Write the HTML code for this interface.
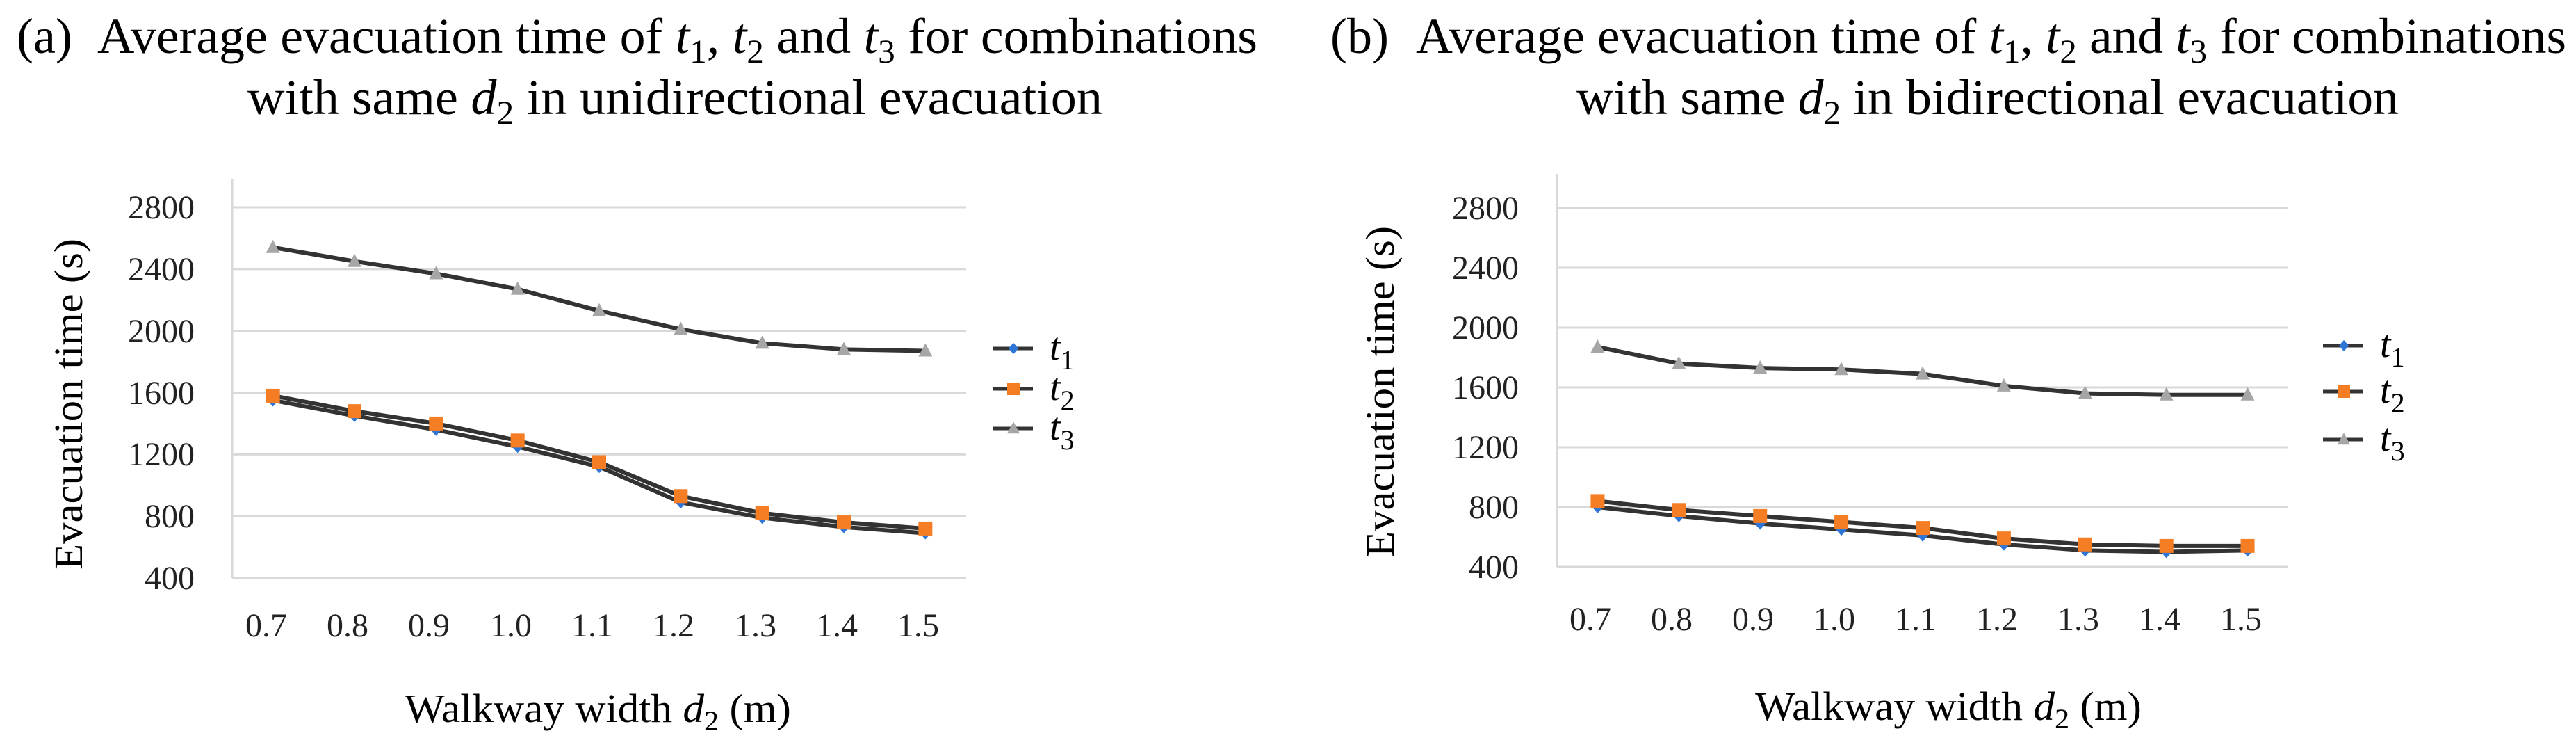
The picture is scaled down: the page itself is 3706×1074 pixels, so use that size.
<!DOCTYPE html>
<html><head><meta charset="utf-8"><style>
html,body{margin:0;padding:0;background:#fff;}
svg, svg text, svg tspan{font-family:"Liberation Serif","DejaVu Serif",serif;}
.yl{font-size:48px;text-anchor:end;fill:#222;}
.xl{font-size:48px;text-anchor:middle;fill:#222;}
</style></head><body>
<svg id="fig" width="3706" height="1069" viewBox="0 0 3706 1069" font-family="Liberation Serif, serif">
  <text x="24" y="76" font-size="72">(a)</text>
  <text x="140" y="76" font-size="72" textLength="1669" lengthAdjust="spacingAndGlyphs">Average evacuation time of <tspan font-style="italic">t</tspan><tspan font-size="48" dy="14">1</tspan><tspan dy="-14">, </tspan><tspan font-style="italic">t</tspan><tspan font-size="48" dy="14">2</tspan><tspan dy="-14"> and </tspan><tspan font-style="italic">t</tspan><tspan font-size="48" dy="14">3</tspan><tspan dy="-14"> for combinations</tspan></text>
  <text x="356" y="164" font-size="72" textLength="1230" lengthAdjust="spacingAndGlyphs">with same <tspan font-style="italic">d</tspan><tspan font-size="48" dy="14">2</tspan><tspan dy="-14"> in unidirectional evacuation</tspan></text>
  <text x="1914" y="76" font-size="72">(b)</text>
  <text x="2037" y="76" font-size="72" textLength="1655" lengthAdjust="spacingAndGlyphs">Average evacuation time of <tspan font-style="italic">t</tspan><tspan font-size="48" dy="14">1</tspan><tspan dy="-14">, </tspan><tspan font-style="italic">t</tspan><tspan font-size="48" dy="14">2</tspan><tspan dy="-14"> and </tspan><tspan font-style="italic">t</tspan><tspan font-size="48" dy="14">3</tspan><tspan dy="-14"> for combinations</tspan></text>
  <text x="2268" y="164" font-size="72" textLength="1183" lengthAdjust="spacingAndGlyphs">with same <tspan font-style="italic">d</tspan><tspan font-size="48" dy="14">2</tspan><tspan dy="-14"> in bidirectional evacuation</tspan></text>

  <g id="chartA"></g>
  <g id="chartB"></g>

  <g>
    <text class="yl" x="280" y="847">400</text>
    <text class="yl" x="280" y="758">800</text>
    <text class="yl" x="280" y="669">1200</text>
    <text class="yl" x="280" y="581">1600</text>
    <text class="yl" x="280" y="492">2000</text>
    <text class="yl" x="280" y="403">2400</text>
    <text class="yl" x="280" y="314">2800</text>
  </g>
  <g>
    <text class="xl" x="383" y="915">0.7</text>
    <text class="xl" x="500" y="915">0.8</text>
    <text class="xl" x="617" y="915">0.9</text>
    <text class="xl" x="735" y="915">1.0</text>
    <text class="xl" x="852" y="915">1.1</text>
    <text class="xl" x="969" y="915">1.2</text>
    <text class="xl" x="1087" y="915">1.3</text>
    <text class="xl" x="1204" y="915">1.4</text>
    <text class="xl" x="1321" y="915">1.5</text>
  </g>
  <text x="0" y="0" font-size="58" text-anchor="middle" transform="translate(118,581) rotate(-90)" textLength="476" lengthAdjust="spacingAndGlyphs">Evacuation time (s)</text>
  <text x="860" y="1038" font-size="58" text-anchor="middle" textLength="556" lengthAdjust="spacingAndGlyphs">Walkway width <tspan font-style="italic">d</tspan><tspan font-size="40" dy="12">2</tspan><tspan dy="-12"> (m)</tspan></text>
  <text x="1510" y="517" font-size="56"><tspan font-style="italic">t</tspan><tspan font-size="40" dy="14">1</tspan></text>
  <text x="1510" y="575" font-size="56"><tspan font-style="italic">t</tspan><tspan font-size="40" dy="14">2</tspan></text>
  <text x="1510" y="632" font-size="56"><tspan font-style="italic">t</tspan><tspan font-size="40" dy="14">3</tspan></text>

  <g>
    <text class="yl" x="2185" y="831">400</text>
    <text class="yl" x="2185" y="745">800</text>
    <text class="yl" x="2185" y="659">1200</text>
    <text class="yl" x="2185" y="573">1600</text>
    <text class="yl" x="2185" y="487">2000</text>
    <text class="yl" x="2185" y="401">2400</text>
    <text class="yl" x="2185" y="315">2800</text>
  </g>
  <g>
    <text class="xl" x="2288" y="906">0.7</text>
    <text class="xl" x="2405" y="906">0.8</text>
    <text class="xl" x="2522" y="906">0.9</text>
    <text class="xl" x="2639" y="906">1.0</text>
    <text class="xl" x="2756" y="906">1.1</text>
    <text class="xl" x="2873" y="906">1.2</text>
    <text class="xl" x="2990" y="906">1.3</text>
    <text class="xl" x="3107" y="906">1.4</text>
    <text class="xl" x="3224" y="906">1.5</text>
  </g>
  <text x="0" y="0" font-size="58" text-anchor="middle" transform="translate(2005,563) rotate(-90)" textLength="476" lengthAdjust="spacingAndGlyphs">Evacuation time (s)</text>
  <text x="2803" y="1035" font-size="58" text-anchor="middle" textLength="556" lengthAdjust="spacingAndGlyphs">Walkway width <tspan font-style="italic">d</tspan><tspan font-size="40" dy="12">2</tspan><tspan dy="-12"> (m)</tspan></text>
  <text x="3424" y="513" font-size="56"><tspan font-style="italic">t</tspan><tspan font-size="40" dy="14">1</tspan></text>
  <text x="3424" y="579" font-size="56"><tspan font-style="italic">t</tspan><tspan font-size="40" dy="14">2</tspan></text>
  <text x="3424" y="648" font-size="56"><tspan font-style="italic">t</tspan><tspan font-size="40" dy="14">3</tspan></text>
</svg>
<script>
const categories = ["0.7","0.8","0.9","1.0","1.1","1.2","1.3","1.4","1.5"];
const yTicks = [400, 800, 1200, 1600, 2000, 2400, 2800];
const seriesNames = ["t1","t2","t3"];
const uniT1 = [1550, 1450, 1360, 1250, 1120, 890, 790, 730, 690];
const uniT2 = [1580, 1480, 1400, 1290, 1150, 930, 820, 760, 720];
const uniT3 = [2540, 2450, 2370, 2270, 2130, 2010, 1920, 1880, 1870];
const biT1 = [800, 740, 690, 650, 610, 550, 510, 500, 510];
const biT2 = [840, 780, 740, 700, 660, 590, 550, 540, 540];
const biT3 = [1870, 1760, 1730, 1720, 1690, 1610, 1560, 1550, 1550];

const NS = "http://www.w3.org/2000/svg";
function mk(parent, tag, attrs) {
  const e = document.createElementNS(NS, tag);
  for (const k in attrs) e.setAttribute(k, attrs[k]);
  parent.appendChild(e);
  return e;
}

function drawChart(g, cfg, data) {
  const yMin = 400, yMax = 2800;
  const yScale = v => cfg.bottom - (v - yMin) / (yMax - yMin) * (cfg.bottom - cfg.top);
  const step = (cfg.right - cfg.left) / categories.length;
  const xScale = i => cfg.left + (i + 0.5) * step;

  yTicks.forEach(t => {
    const gl = mk(g, "line", {x1: cfg.left, x2: cfg.right, y1: yScale(t), y2: yScale(t), stroke: "#d9d9d9", "stroke-width": 3});
    
    
  });
  const ax = mk(g, "line", {x1: cfg.left, x2: cfg.left, y1: cfg.axisTop, y2: cfg.bottom, stroke: "#d9d9d9", "stroke-width": 3});
  
  

  const colors = ["#2e75d6", "#f57d23", "#a6a6a6"];
  function marker(parent, k, x, y, s) {
    let m;
    if (k === 0) m = mk(parent, "polygon", {points: `${x},${y-9*s} ${x+8*s},${y} ${x},${y+9*s} ${x-8*s},${y}`, fill: colors[0]});
    else if (k === 1) m = mk(parent, "rect", {x: x-10*s, y: y-10*s, width: 20*s, height: 20*s, fill: colors[1]});
    else m = mk(parent, "polygon", {points: `${x},${y-11*s} ${x+10*s},${y+8*s} ${x-10*s},${y+8*s}`, fill: colors[2]});
    return m;
  }

  data.forEach((vals, k) => {
    const pts = vals.map((v, i) => `${xScale(i)},${yScale(v)}`).join(" ");
    const pl = mk(g, "polyline", {points: pts, fill: "none", stroke: "#333", "stroke-width": 6, "stroke-linejoin": "round"});
    
    
    vals.forEach((v, i) => {
      const m = marker(g, k, xScale(i), yScale(v), 1);
      
      
    });
  });

  cfg.legY.forEach((ly, k) => {
    const lg = mk(g, "g", {});
    
    
    mk(lg, "line", {x1: cfg.legX - 30, x2: cfg.legX + 28, y1: ly, y2: ly, stroke: "#333", "stroke-width": 5});
    marker(lg, k, cfg.legX, ly, 0.9);
  });
}

drawChart(document.getElementById("chartA"),
  {left: 334, right: 1390, top: 298, bottom: 831, axisTop: 257, legX: 1458, legY: [501, 559, 616]},
  [uniT1, uniT2, uniT3]);
drawChart(document.getElementById("chartB"),
  {left: 2240, right: 3292, top: 299, bottom: 815, axisTop: 250, legX: 3372, legY: [497, 563, 632]},
  [biT1, biT2, biT3]);
</script>
</body></html>
